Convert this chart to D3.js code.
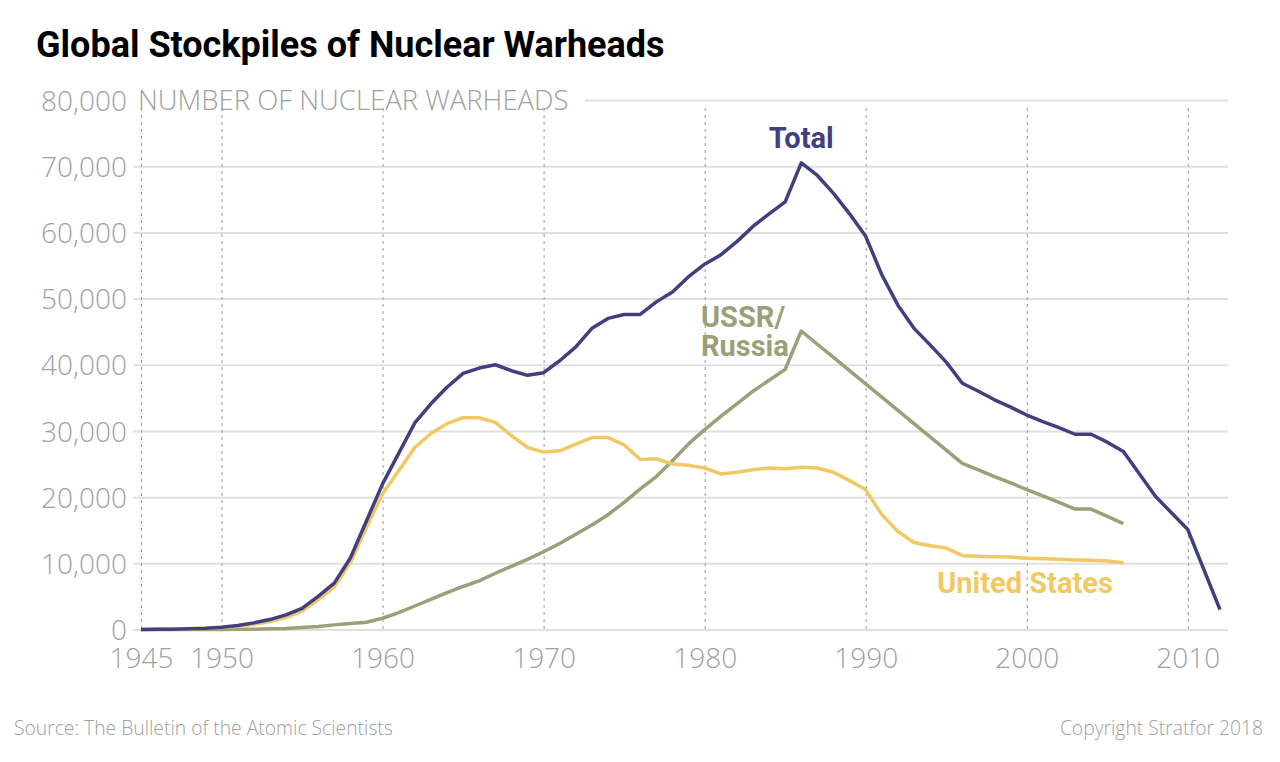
<!DOCTYPE html>
<html>
<head>
<meta charset="utf-8">
<script src="https://cdn.jsdelivr.net/npm/d3@7"></script>
<style>
  body { margin: 0; background: #fff; }
  svg text { font-family: "Open Sans", "Lato", sans-serif; }
</style>
</head>
<body>
<div id="chart"></div>
<script>
// values (warheads per year)
const years = [1945, 1946, 1947, 1948, 1949, 1950, 1951, 1952, 1953, 1954,
  1955, 1956, 1957, 1958, 1959, 1960, 1961, 1962, 1963, 1964,
  1965, 1966, 1967, 1968, 1969, 1970, 1971, 1972, 1973, 1974,
  1975, 1976, 1977, 1978, 1979, 1980, 1981, 1982, 1983, 1984,
  1985, 1986, 1987, 1988, 1989, 1990, 1991, 1992, 1993, 1994,
  1995, 1996, 1997, 1998, 1999, 2000, 2001, 2002, 2003, 2004,
  2005, 2006];
const totalYears = years.concat([2008, 2010, 2012]);

const totalValues = [0, 20, 50, 100, 180, 350, 600, 1000, 1500, 2200,
  3200, 5000, 7000, 10800, 16400, 22000, 26600, 31200, 34100, 36600,
  38700, 39500, 40000, 39100, 38400, 38800, 40600, 42700, 45500, 47000,
  47600, 47600, 49500, 51000, 53300, 55200, 56600, 58600, 60900, 62800,
  64600, 70500, 68600, 65900, 62800, 59400, 53600, 49000, 45500, 43000,
  40400, 37200, 36000, 34700, 33600, 32400, 31400, 30500, 29500, 29500,
  28300, 26900, 20100, 15100, 3000];

const usValues = [0, 10, 30, 80, 170, 300, 450, 800, 1200, 1800,
  2800, 4500, 6400, 10100, 15400, 20500, 24000, 27500, 29600, 31100,
  32000, 32000, 31300, 29300, 27500, 26800, 27000, 28000, 29000, 29000,
  27900, 25700, 25800, 25000, 24800, 24400, 23500, 23750, 24150, 24400,
  24300, 24500, 24400, 23750, 22500, 21100, 17350, 14800, 13150, 12650,
  12300, 11150, 11050, 11000, 10950, 10750, 10700, 10600, 10500, 10450,
  10350, 10100];

const ussrValues = [0, 0, 0, 0, 0, 5, 25, 50, 120, 150,
  300, 450, 700, 900, 1100, 1700, 2550, 3550, 4550, 5580,
  6500, 7350, 8500, 9550, 10600, 11750, 13000, 14400, 15800, 17350,
  19200, 21250, 23100, 25500, 28050, 30200, 32200, 34100, 36000, 37650,
  39300, 45100, 43100, 41100, 39100, 37100, 35100, 33100, 31100, 29100,
  27100, 25100, 24100, 23100, 22150, 21150, 20200, 19200, 18200, 18200,
  17100, 16000];

const xTicks = [1945, 1950, 1960, 1970, 1980, 1990, 2000, 2010];
const yTicks = [0, 10000, 20000, 30000, 40000, 50000, 60000, 70000, 80000];

const width = 1280;
const height = 762;
const margin = { left: 141, right: 60, top: 100, bottom: 133 };

const svg = d3.select('#chart')
  .append('svg')
  .attr('width', width)
  .attr('height', height);

const x = d3.scaleLinear()
  .domain([1945, 2012])
  .range([margin.left, 1220]);

const y = d3.scaleLinear()
  .domain([0, 80000])
  .range([height - margin.bottom + 0.5, margin.top]);

// horizontal grid + y labels
const yAxis = d3.axisLeft(y)
  .tickValues(yTicks)
  .tickFormat(d3.format(','))
  .tickSize(-(1228 - 133))
  .tickPadding(6);

const gy = svg.append('g')
  .attr('transform', 'translate(133,0)')
  .call(yAxis);
gy.select('.domain').remove();
gy.selectAll('.tick line')
  .attr('stroke', '#e0e0e0')
  .attr('stroke-width', 2);
gy.selectAll('.tick text')
  .attr('fill', '#a0a0a0')
  .attr('font-size', 28)
  .attr('font-weight', 300)
  .attr('dy', '0.36em');

// unit label next to the top tick, on a white box over the grid
const topTick = gy.selectAll('.tick').filter(d => d === 80000);
topTick.append('rect')
  .attr('x', 0)
  .attr('y', -14)
  .attr('width', 452)
  .attr('height', 28)
  .attr('fill', '#fff');
topTick.append('text')
  .attr('x', 5)
  .attr('dy', '0.36em')
  .attr('text-anchor', 'start')
  .attr('fill', '#a0a0a0')
  .attr('font-size', 27.5)
  .attr('font-weight', 300)
  .text('NUMBER OF NUCLEAR WARHEADS');

// vertical dotted lines + x labels
const xAxis = d3.axisBottom(x)
  .tickValues(xTicks)
  .tickFormat(d3.format('d'))
  .tickSize(y(0) - 108)
  .tickPadding(19);

const gx = svg.append('g')
  .attr('transform', `translate(0,108)`)
  .call(xAxis);
gx.select('.domain').remove();
gx.selectAll('.tick line')
  .attr('stroke', '#9a9a9a')
  .attr('stroke-width', 1)
  .attr('stroke-dasharray', '3,4');
gx.selectAll('.tick text')
  .attr('fill', '#a0a0a0')
  .attr('font-size', 28)
  .attr('font-weight', 300);

// series
const line = d3.line()
  .x(d => x(d[0]))
  .y(d => y(d[1]));

const series = [
  { name: 'ussr', years: years, values: ussrValues, color: '#9c9f78' },
  { name: 'us', years: years, values: usValues, color: '#f1c964' },
  { name: 'total', years: totalYears, values: totalValues, color: '#413f7f' },
];

svg.append('g')
  .selectAll('path')
  .data(series)
  .enter().append('path')
    .attr('d', s => line(s.years.map((yr, i) => [yr, s.values[i]])))
    .attr('fill', 'none')
    .attr('stroke', s => s.color)
    .attr('stroke-width', 3.5)
    .attr('stroke-linejoin', 'round');

// direct labels
const labelFont = '"Liberation Sans Narrow", "Roboto", sans-serif';
const labels = svg.append('g')
  .attr('font-weight', 700)
  .attr('font-size', 29);

labels.append('text')
  .attr('x', x(1986))
  .attr('y', 148)
  .attr('text-anchor', 'middle')
  .attr('fill', '#413f7f')
  .style('font-family', labelFont)
  .text('Total');

const ussrLabel = labels.append('text')
  .attr('x', 701)
  .attr('y', 327)
  .attr('fill', '#9c9f78')
  .style('font-family', labelFont);
ussrLabel.append('tspan')
  .attr('x', 701)
  .text('USSR/');
ussrLabel.append('tspan')
  .attr('x', 701)
  .attr('dy', 29)
  .text('Russia');

labels.append('text')
  .attr('x', 1025)
  .attr('y', 593)
  .attr('text-anchor', 'middle')
  .attr('fill', '#f1c964')
  .style('font-family', labelFont)
  .text('United States');

// title + footer
svg.append('text')
  .attr('x', 36)
  .attr('y', 57)
  .attr('fill', '#000')
  .attr('font-size', 36)
  .attr('font-weight', 700)
  .style('font-family', labelFont)
  .text('Global Stockpiles of Nuclear Warheads');

svg.append('text')
  .attr('x', 14)
  .attr('y', 735)
  .attr('fill', '#a0a0a0')
  .attr('font-size', 19.3)
  .attr('font-weight', 300)
  .text('Source: The Bulletin of the Atomic Scientists');

svg.append('text')
  .attr('x', 1263)
  .attr('y', 735)
  .attr('text-anchor', 'end')
  .attr('fill', '#a0a0a0')
  .attr('font-size', 19.3)
  .attr('font-weight', 300)
  .text('Copyright Stratfor 2018');
</script>
</body>
</html>
